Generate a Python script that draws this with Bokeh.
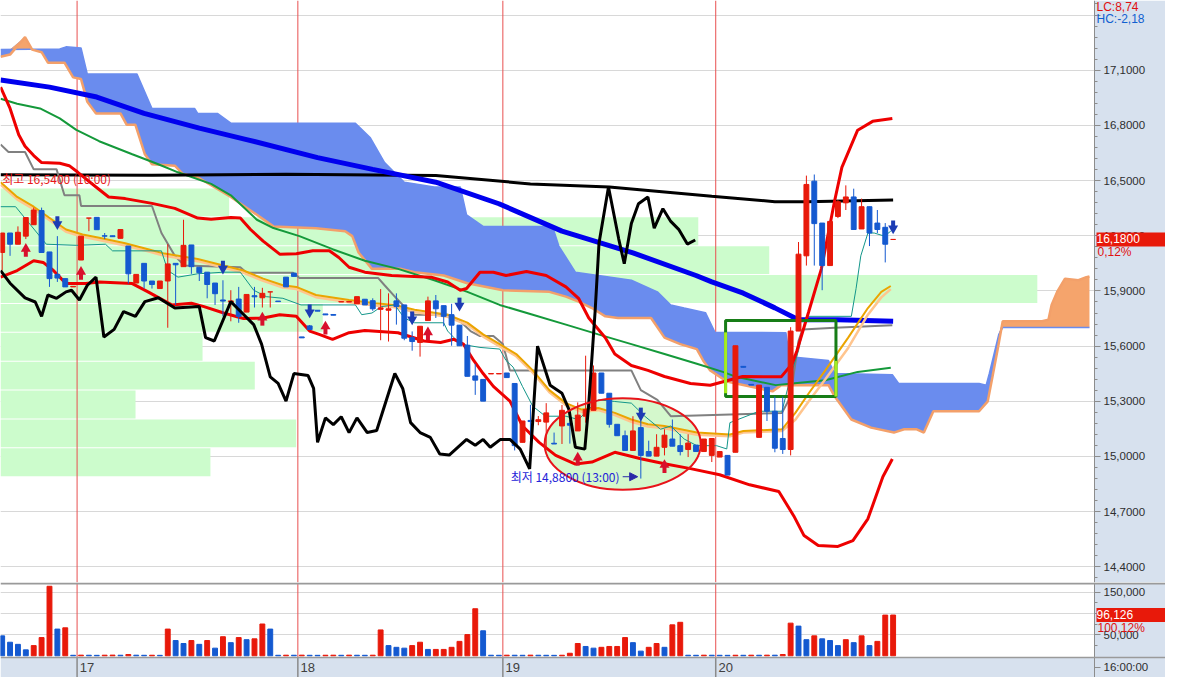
import numpy as np
from bokeh.plotting import figure
from bokeh.models import Range1d, FixedTicker, Span, Label, Arrow, NormalHead
from bokeh.layouts import column
from bokeh.embed import file_html
from bokeh.resources import INLINE
from bokeh.core.properties import value

# ---------------- candles (10-min bars, index 0..113) ----------------
opens = [16.109,16.215,16.154,16.198,16.260,16.337,16.112,15.990,15.967,15.922,
         16.068,16.296,16.300,16.200,16.200,16.186,16.144,15.943,16.050,15.954,
         15.913,15.954,16.050,16.032,16.150,16.029,16.002,15.943,15.851,15.840,
         15.856,15.785,15.874,15.863,15.895,15.845,15.975,15.997,15.650,15.710,
         15.795,15.775,15.772,15.840,15.840,15.830,15.855,15.847,15.800,15.795,
         15.846,15.824,15.646,15.620,15.739,15.846,15.820,15.771,15.714,15.605,
         15.438,15.419,15.449,15.449,15.454,15.397,15.077,15.196,15.190,15.187,
         15.072,15.166,15.180,15.139,15.219,15.251,15.454,15.344,15.175,15.113,
         15.033,15.157,15.027,15.002,15.050,15.095,15.059,15.038,15.062,15.027,
         15.006,14.997,15.006,15.023,15.490,15.392,15.104,15.376,15.246,15.098,
         15.038,15.682,16.091,16.497,16.269,16.038,16.305,16.379,16.411,16.237,
         16.358,16.269,16.246,16.180]
highs = [16.215,16.215,16.251,16.299,16.353,16.353,16.112,16.198,15.967,15.925,
         16.198,16.296,16.300,16.215,16.200,16.234,16.144,15.990,16.050,15.954,
         15.954,16.154,16.050,16.287,16.150,16.029,16.002,15.943,15.958,15.904,
         15.922,15.881,15.922,15.917,15.895,15.845,15.975,15.997,15.650,15.715,
         15.795,15.775,15.772,15.842,15.842,15.869,15.855,15.860,15.910,15.887,
         15.887,15.824,15.680,15.708,15.869,15.878,15.820,15.830,15.714,15.655,
         15.504,15.419,15.451,15.451,15.454,15.397,15.193,15.281,15.220,15.290,
         15.130,15.280,15.200,15.294,15.548,15.495,15.454,15.344,15.175,15.141,
         15.219,15.219,15.086,15.121,15.148,15.201,15.121,15.121,15.062,15.095,
         15.098,15.027,15.006,15.602,15.490,15.392,15.388,15.376,15.326,15.326,
         15.703,16.166,16.527,16.533,16.269,16.278,16.394,16.474,16.456,16.402,
         16.358,16.340,16.269,16.180]
lows = [16.011,16.091,16.154,16.182,16.260,16.109,15.922,15.949,15.922,15.922,
        16.068,16.225,16.233,16.182,16.195,16.186,15.940,15.943,15.913,15.913,
        15.913,15.700,15.824,16.032,15.993,15.954,15.860,15.824,15.762,15.735,
        15.727,15.785,15.810,15.810,15.810,15.842,15.922,15.979,15.645,15.690,
        15.790,15.770,15.768,15.840,15.840,15.830,15.824,15.792,15.632,15.625,
        15.717,15.632,15.575,15.543,15.739,15.753,15.708,15.602,15.602,15.436,
        15.335,15.301,15.449,15.449,15.429,15.033,15.077,15.095,15.170,15.041,
        15.068,15.068,15.070,15.139,15.184,15.251,15.344,15.157,15.113,15.033,
        15.033,14.880,15.002,15.002,15.006,15.056,15.006,14.997,15.027,15.027,
        14.970,14.997,14.899,15.023,15.485,15.388,15.104,15.193,15.023,15.014,
        15.006,15.682,16.038,16.038,15.904,16.038,16.296,16.340,16.234,16.237,
        16.144,16.215,16.055,16.180]
closes = [16.215,16.154,16.219,16.299,16.340,16.109,15.967,15.970,15.922,15.925,
          16.198,16.296,16.233,16.198,16.195,16.234,15.993,15.990,15.954,15.935,
          15.954,16.047,16.042,16.148,16.032,15.999,15.935,15.885,15.845,15.846,
          15.762,15.881,15.868,15.887,15.895,15.842,15.922,15.979,15.645,15.690,
          15.790,15.770,15.768,15.842,15.842,15.869,15.824,15.803,15.808,15.803,
          15.815,15.643,15.625,15.708,15.846,15.803,15.762,15.714,15.602,15.436,
          15.415,15.301,15.451,15.451,15.429,15.059,15.193,15.190,15.200,15.237,
          15.068,15.251,15.170,15.225,15.255,15.454,15.344,15.175,15.113,15.033,
          15.139,15.006,15.002,15.050,15.116,15.056,15.027,15.073,15.027,15.095,
          15.098,15.027,14.899,15.602,15.485,15.388,15.388,15.246,15.045,15.038,
          15.682,16.100,16.479,16.266,16.038,16.278,16.385,16.411,16.234,16.358,
          16.215,16.234,16.154,16.180]
volumes = [47000,32000,27000,14000,24000,43000,164000,63000,66000,
           1200,1500,1300,1100,1400,1600,1300,3000,1400,1200,1300,1100,
           63000,36000,29000,36000,27000,36000,18000,45000,31000,43000,38000,40000,75000,63000,
           1200,1400,1300,1500,1200,1100,1300,1400,1200,1500,1300,1200,1400,
           61000,24000,20000,18000,24000,32000,15000,15000,15000,20000,34000,50000,111000,59000,
           1300,1200,1400,1300,1200,1500,1300,1200,1100,1300,
           6000,29000,22000,18000,20000,22000,22000,43000,31000,11000,20000,29000,20000,73000,79000,
           1300,1200,1400,1300,1200,1100,1300,1200,1400,1300,1500,1400,
           3000,
           77000,70000,38000,47000,40000,36000,24000,38000,31000,47000,24000,34000,96000,96126]

day_breaks = [9.5, 37.5, 63.5, 90.5]
day_labels = ["17", "18", "19", "20"]
price_ticks = [14.4, 14.7, 15.0, 15.3, 15.6, 15.9, 16.2, 16.5, 16.8, 17.1, 17.4]
vol_ticks = [50000, 100000, 150000]

# ---------------- indicator lines (bar index, price) ----------------
bb_up_i = [-0.2,1.0,2.1,2.9,4.0,5.0,7.3,8.5,9.6,11.9,13.5,15.6,19.0,21.9,24.8,26.5,29.0,30.2,31.5,33.1,
           35.2,37.3,39.4,41.5,42.7,44.0,46.0,49.4,54.4,56.5,58.1,58.9,60.6,62.3,63.9,66.5,69.0,71.5,73.1,74.4,
           76.5,77.7,79.8,81.9,84.0,87.3,89.8,93.9,98.8,100.2,100.8,102.3,103.9,105.6,106.5,108.5,110.4,112.9]
bb_up_p = [17.008,16.892,16.749,16.687,16.636,16.598,16.594,16.581,16.545,16.465,16.411,16.402,16.376,16.349,16.296,16.290,16.299,16.296,16.234,16.171,
           16.100,16.102,16.118,16.118,16.082,16.029,16.002,15.984,15.975,15.949,15.904,15.913,16.002,16.002,15.984,16.006,15.984,15.922,15.860,15.753,
           15.646,15.557,15.495,15.468,15.435,15.397,15.387,15.435,15.433,15.504,15.575,15.788,16.020,16.394,16.572,16.774,16.822,16.838]
bb_lo_i = [-0.2,1.9,4.0,5.2,6.5,8.1,10.6,12.3,16.5,18.5,21.5,24.0,25.6,28.1,30.6,33.1,35.2,37.3,39.0,40.2,
           41.9,44.0,46.0,50.2,53.5,55.6,57.3,58.5,59.8,61.0,62.3,64.4,66.0,68.1,70.2,72.7,74.8,77.7,81.0,84.0,
           87.3,91.0,94.8,98.5,100.4,101.7,103.5,106.0,107.9,109.8,111.7,112.9]
bb_lo_p = [15.975,16.011,16.064,16.055,16.011,15.940,15.940,15.949,15.940,15.895,15.824,15.833,15.815,15.780,15.750,15.753,15.771,15.762,15.682,15.664,
           15.637,15.673,15.685,15.673,15.628,15.620,15.637,15.611,15.522,15.451,15.381,15.301,15.166,15.077,15.006,14.959,14.970,15.023,14.988,14.961,
           14.934,14.901,14.846,14.810,14.677,14.570,14.516,14.511,14.543,14.661,14.890,14.986]
kijun_i = [-0.2,0.8,2.9,4.0,6.9,7.9,9.8,10.0,19.0,20.2,21.9,23.1,30.2,31.0,36.9,37.7,47.7,48.5,50.0,51.0,
           52.3,56.5,58.1,59.4,60.6,62.3,63.5,64.4,79.8,81.0,83.1,84.8,98.9,100.0,101.0,101.5,105.6,112.9]
kijun_p = [16.696,16.655,16.655,16.561,16.561,16.420,16.420,16.362,16.362,16.215,16.091,16.038,16.029,15.999,15.999,15.970,15.970,15.931,15.860,15.815,
           15.771,15.771,15.735,15.682,15.655,15.655,15.611,15.468,15.468,15.361,15.308,15.219,15.237,15.326,15.628,15.691,15.700,15.714]
tenkan_i = [-0.2,1.7,5.6,9.4,13.1,14.0,20.2,21.0,22.3,24.8,28.1,30.2,31.9,33.5,35.6,37.9,44.8,45.6,46.9,48.1,
            49.8,51.0,52.3,56.0,56.5,58.1,60.6,63.1,63.9,64.8,66.0,67.3,68.9,71.5,73.1,75.6,77.7,79.8,81.5,83.5,
            84.8,86.5,88.1,90.6,91.9,92.3,96.0,98.9,100.2,101.0,101.9,102.3,107.7,108.3,108.9,109.8,110.6,111.9,112.7]
tenkan_p = [16.358,16.358,16.154,16.148,16.154,16.118,16.118,16.011,15.975,15.993,16.002,16.002,15.904,15.869,15.860,15.824,15.824,15.771,15.780,15.815,
            15.824,15.753,15.727,15.727,15.682,15.611,15.593,15.584,15.522,15.486,15.380,15.273,15.219,15.219,15.201,15.308,15.299,15.290,15.219,15.148,
            15.166,15.095,15.059,15.059,15.041,15.184,15.246,15.246,15.468,15.575,15.753,15.762,15.762,15.913,16.091,16.215,16.215,16.198,16.225]
ma_or_i = [-0.2,1.9,4.0,8.1,10.2,12.3,15.6,18.5,20.6,24.8,27.3,30.6,33.1,35.6,37.3,39.8,44.0,47.3,49.8,52.3,
           56.5,59.0,61.0,63.1,65.2,67.3,69.4,71.5,73.5,75.6,77.7,79.8,81.9,84.0,88.1,92.3,94.0,98.9,100.6,102.3,
           104.4,107.3,109.8,111.5,112.7]
ma_or_p = [16.491,16.411,16.358,16.234,16.207,16.189,16.159,16.127,16.103,16.074,16.047,16.011,15.967,15.931,15.922,15.878,15.851,15.833,15.824,15.798,
           15.771,15.728,15.664,15.611,15.557,15.468,15.361,15.290,15.255,15.264,15.237,15.201,15.175,15.166,15.130,15.120,15.139,15.148,15.237,15.344,
           15.468,15.646,15.807,15.895,15.927]
ma_pe_p = [16.478,16.398,16.345,16.222,16.195,16.177,16.147,16.115,16.091,16.062,16.035,15.999,15.955,15.919,15.910,15.866,15.839,15.821,15.812,15.786,
           15.759,15.716,15.652,15.599,15.545,15.456,15.349,15.278,15.243,15.252,15.225,15.189,15.163,15.154,15.118,15.110,15.130,15.139,15.200,15.300,
           15.420,15.590,15.771,15.865,15.910]
ma_gr_i = [-0.2,1.9,4.8,7.3,9.4,12.3,16.5,19.8,22.3,26.5,29.0,32.3,34.4,37.7,41.9,46.0,50.2,54.8,59.0,63.1,
           67.3,71.5,75.6,79.8,84.0,88.1,91.4,93.1,98.1,100.2,104.4,108.5,112.7]
ma_gr_p = [16.945,16.918,16.892,16.838,16.776,16.714,16.643,16.589,16.545,16.482,16.420,16.287,16.242,16.198,16.127,16.064,16.020,15.958,15.895,15.824,
           15.771,15.717,15.664,15.611,15.557,15.504,15.460,15.433,15.388,15.397,15.415,15.460,15.483]
ma_bl_i = [-0.2,6,12,18,25,31,40,47,55,63,71,80,88,90,94,98,101,106,113]
ma_bl_p = [17.047,17.008,16.954,16.865,16.785,16.723,16.625,16.561,16.491,16.374,16.225,16.107,15.984,15.949,15.888,15.808,15.744,15.744,15.735]
ma_lg_i = [-0.2,19,36,55,67,77,90,98,102,113]
ma_lg_p = [16.532,16.529,16.534,16.527,16.482,16.465,16.415,16.385,16.385,16.394]
cmp_i = [-0.2,1.0,2.9,4.2,5.0,5.8,6.9,8.1,8.8,9.8,10.8,11.9,12.9,14.2,15.4,16.9,18.1,19.8,21.9,25.0,
         25.8,26.9,29.0,29.8,31.9,32.9,34.0,35.0,36.0,37.0,38.8,39.5,40.0,41.0,42.0,43.0,44.0,45.0,46.3,47.5,
         48.8,49.8,50.8,51.8,53.0,54.3,55.5,56.7,58.9,60.0,61.0,61.9,63.2,64.4,65.7,66.9,67.9,69.5,71.0,71.9,
         72.7,73.9,74.4,75.2,75.7,76.9,78.2,78.9,79.8,80.7,81.9,82.7,83.8,84.8,85.8,86.9,87.9]
cmp_p = [16.011,15.942,15.862,15.840,15.762,15.878,15.860,15.895,15.904,15.851,15.931,15.975,15.650,15.691,15.788,15.762,15.842,15.863,15.807,15.815,
         15.646,15.628,15.842,15.807,15.717,15.611,15.433,15.397,15.301,15.451,15.440,15.370,15.077,15.210,15.173,15.216,15.130,15.210,15.130,15.141,
         15.317,15.451,15.370,15.184,15.130,15.104,15.013,15.008,15.093,15.061,15.093,15.050,15.093,15.093,15.040,14.933,15.600,15.387,15.344,15.253,
         15.050,15.040,15.290,15.787,16.161,16.465,16.182,16.048,16.267,16.374,16.411,16.241,16.347,16.278,16.235,16.155,16.177]
span_a_i = [-0.2,1.0,2.9,3.8,5.0,5.8,7.9,9.0,10.0,10.8,11.9,15.0,15.8,16.9,18.1,19.0,21.9,22.9,24.8,29.0,
            32.3,34.4,39.8,43.5,44.4,45.2,46.9,50.6,52.3,56.0,59.0,63.5,69.4,71.5,73.1,74.8,76.5,78.1,82.3,84.0,
            86.0,88.1,88.9,89.8,91.9,97.7,98.8,104.8,105.6,107.7,110.2,113.1,114.4,116.0,116.9,118.1,123.9,125.0,125.6,126.3,
            126.9,131.9,132.7,133.1,133.8,134.8,136.5,137.5,137.9]
span_a_p = [17.173,17.185,17.280,17.212,17.198,17.141,17.141,17.061,17.052,16.928,16.865,16.865,16.803,16.803,16.643,16.589,16.581,16.536,16.518,16.411,
            16.314,16.251,16.241,16.225,16.198,16.109,16.020,16.020,16.002,15.984,15.942,15.904,15.895,15.869,15.842,15.807,15.762,15.753,15.753,15.646,
            15.611,15.584,15.522,15.468,15.408,15.354,15.388,15.388,15.326,15.201,15.157,15.130,15.148,15.148,15.130,15.246,15.246,15.300,15.433,15.593,
            15.735,15.735,15.744,15.824,15.895,15.967,15.958,15.975,15.979]
span_b_i = [-0.2,7.3,8.1,10.0,10.8,17.1,19.0,24.4,24.8,27.3,29.0,44.8,46.7,48.5,51.0,54.8,58.1,58.9,61.0,69.8,
            70.6,72.7,75.6,79.8,83.1,84.8,86.5,89.2,90.4,99.4,99.8,100.6,104.8,105.6,112.9,113.7,123.9,124.8,125.2,125.8,
            126.4,126.9,137.9]
span_b_p = [17.212,17.216,17.227,17.221,17.079,17.079,16.892,16.892,16.865,16.865,16.812,16.812,16.732,16.598,16.491,16.465,16.465,16.314,16.251,16.251,
            16.144,16.002,15.984,15.958,15.895,15.824,15.807,15.782,15.675,15.673,15.557,15.540,15.522,15.451,15.445,15.397,15.397,15.388,15.451,15.557,
            15.664,15.701,15.701]

# price-by-volume profile (bottom bin first)
vp_base = 14.89
vp_step = 0.157
vp_vol = [213, 300, 137, 258, 205, 327, 1052, 780, 708, 232]

# signal arrows
sig_up_i = [3, 10, 33, 41, 54, 73, 84]
sig_up_p = [16.118, 15.993, 15.744, 15.696, 15.664, 14.983, 14.943]
sig_dn_i = [7, 28, 39, 52, 58, 81, 113]
sig_dn_p = [16.274, 16.032, 15.794, 15.756, 15.831, 15.233, 16.251]

# ---------------- layout constants ----------------
W, AXW, H1, H2 = 1165, 71, 582, 95
X0, X1 = -0.2125, 138.54
upx = (X1 - X0) / (W - AXW)
XE = X0 + W * upx
PMIN, PMAX = 14.315, 17.479
VMIN, VMAX = -51200, 172900
ppx = (PMAX - PMIN) / H1
vpx = (VMAX - VMIN) / H2
RED, BLUE = "#e8190a", "#1459d0"
AXBG = "#d7e1ee"
FONT = "Liberation Sans"
KFONT = "Noto Sans CJK KR"

def side_label(fig, x, y, text, color, bg=None):
    kw = dict(x=x, y=y, text=text, text_color=color, text_font=FONT, text_font_size="12px",
              text_baseline="middle", text_align="left")
    if bg is not None:
        kw["background_fill_color"] = bg
    fig.add_layout(Label(**kw))

def make_fig(height, yr):
    f = figure(width=W, height=height, x_range=xr, y_range=yr, output_backend="svg",
               toolbar_location=None, y_axis_location="right", x_axis_location=None,
               min_border_left=0, min_border_top=0, min_border_bottom=0, min_border_right=0,
               background_fill_color="white", border_fill_color=AXBG, outline_line_color=None)
    f.xgrid.grid_line_color = None
    f.ygrid.grid_line_color = "#d8d8d8"
    # light-blue price-scale strip on the right
    f.quad(left=[X1], right=[XE], bottom=[yr.start], top=[yr.end], fill_color=AXBG, line_color=None)
    ax = f.yaxis[0]
    ax.fixed_location = X1
    ax.axis_line_color = "#8c8c8c"
    ax.major_tick_line_color = "#8c8c8c"
    ax.minor_tick_line_color = "#8c8c8c"
    ax.major_tick_in = 0
    ax.major_tick_out = 6
    ax.minor_tick_in = 0
    ax.minor_tick_out = 3
    ax.major_label_standoff = 3
    ax.major_label_text_font = FONT
    ax.major_label_text_font_size = "11.5px"
    ax.major_label_text_color = "#2e2e2e"
    return f

xr = Range1d(X0, XE)
p1 = make_fig(H1, Range1d(PMIN, PMAX))
minor_p = [round(14.34 + 0.06 * k, 2) for k in range(53)]
p1.yaxis[0].ticker = FixedTicker(ticks=price_ticks, minor_ticks=minor_p)
ov = {t: f"{t:.4f}".replace(".", ",") for t in price_ticks}
ov[17.4] = ""
p1.yaxis[0].major_label_overrides = ov

# volume profile
vp_y = [vp_base + vp_step * (k + 0.5) for k in range(len(vp_vol))]
vp_right = [X0 + v * 0.125 for v in vp_vol]
p1.hbar(y=vp_y, left=X0, right=vp_right, height=vp_step * 0.965, fill_color="#ccfccc", line_color=None)

# ellipse fill
ELL = dict(x=78.7, y=15.068, w=19.8, h=0.498)
p1.ellipse(x=[ELL["x"]], y=[ELL["y"]], width=[ELL["w"]], height=[ELL["h"]], fill_color="#d4f8cc", line_color=None)

# day separators
p1.segment(x0=day_breaks, y0=[PMIN] * 4, x1=day_breaks, y1=[PMAX] * 4, line_color="#e85050", line_width=1)

# cloud
grid = np.union1d(span_a_i, span_b_i)
a = np.interp(grid, span_a_i, span_a_p)
b = np.interp(grid, span_b_i, span_b_p)
top = np.maximum(a, b)
p1.varea(x=grid, y1=a, y2=top, fill_color="#6a8cee")
p1.varea(x=grid, y1=b, y2=top, fill_color="#f5a46c")
p1.line(span_b_i, span_b_p, line_color="#6a8cee", line_width=1.5)
p1.line(span_a_i, span_a_p, line_color="#f3a06a", line_width=2.5)

# moving averages & bands
p1.line(ma_gr_i, ma_gr_p, line_color="#14993a", line_width=2)
p1.line(ma_lg_i, ma_lg_p, line_color="#000000", line_width=3)
p1.line(ma_bl_i, ma_bl_p, line_color="#0000ee", line_width=5)
p1.line(kijun_i, kijun_p, line_color="#808080", line_width=2)
p1.line(ma_or_i, ma_pe_p, line_color="#ffc58e", line_width=2.5)
p1.line(ma_or_i, ma_or_p, line_color="#eba400", line_width=2)
p1.line(tenkan_i, tenkan_p, line_color="#13968a", line_width=1)
p1.line(bb_up_i, bb_up_p, line_color="#ee0000", line_width=3)
p1.line(bb_lo_i, bb_lo_p, line_color="#ee0000", line_width=3)

# green box annotation
BOX = dict(l=91.75, r=105.75, b=15.326, t=15.739)
p1.quad(left=[BOX["l"]], right=[BOX["r"]], bottom=[BOX["b"]], top=[BOX["t"]],
        fill_alpha=0, line_color="#177d17", line_width=3)
p1.segment(x0=[BOX["l"], BOX["r"]], y0=[15.344, BOX["b"]], x1=[BOX["l"], BOX["r"]], y1=[15.675, 15.52],
           line_color="#a6ee1e", line_width=3)

# candles
idx = np.arange(len(opens))
o, h, l, c = map(np.array, (opens, highs, lows, closes))
ccol = np.where(c >= o, RED, BLUE)
p1.segment(x0=idx, y0=h, x1=idx, y1=l, line_color=ccol, line_width=1)
p1.vbar(x=idx, top=np.maximum(o, c), bottom=np.minimum(o, c), width=0.62, fill_color=ccol, line_color=ccol, line_width=1)

# comparison line
p1.line(cmp_i, cmp_p, line_color="#000000", line_width=3)

# ellipse border
p1.ellipse(x=[ELL["x"]], y=[ELL["y"]], width=[ELL["w"]], height=[ELL["h"]], fill_alpha=0, line_color="#e8141a", line_width=2)

# signal arrows
up_p = np.array(sig_up_p); dn_p = np.array(sig_dn_p)
p1.rect(x=sig_up_i, y=up_p - 3 * ppx, width=4, width_units="screen", height=6 * ppx, fill_color="#d8102c", line_color=None)
p1.scatter(x=sig_up_i, y=up_p + 2 * ppx, marker="triangle", size=10, fill_color="#d8102c", line_color=None)
p1.rect(x=sig_dn_i, y=dn_p + 3 * ppx, width=4, width_units="screen", height=6 * ppx, fill_color="#1c3cb4", line_color=None)
p1.scatter(x=sig_dn_i, y=dn_p - 2 * ppx, marker="inverted_triangle", size=10, fill_color="#1c3cb4", line_color=None)

# texts
p1.text(x=[0.0], y=[16.513], text=["최고 16,5400 (10:00)"], text_font=value(KFONT), text_font_size="12px",
        text_color="#e81818", text_baseline="middle")
p1.text(x=[78.3], y=[14.89], text=["최저 14,8800 (13:00)"], text_font=value(KFONT), text_font_size="12px",
        text_color="#2424d8", text_baseline="middle", text_align="right")
p1.add_layout(Arrow(end=NormalHead(size=8, fill_color="#2a2aa8", line_color="#2a2aa8"),
                    x_start=78.7, y_start=14.89, x_end=80.6, y_end=14.89, line_color="#2a2aa8", line_width=1))

# right-scale labels (price)
side_label(p1, X1 + 2 * upx, PMAX - 6 * ppx, "LC:8,74", "#e01010")
side_label(p1, X1 + 2 * upx, PMAX - 18 * ppx, "HC:-2,18", "#1060d0")
side_label(p1, X1 + 2 * upx, closes[-1], " 16,1800        ", "white", RED)
side_label(p1, X1 + 3 * upx, closes[-1] - 13 * ppx, "0,12%", "#e01010")

# ---------------- volume panel ----------------
p2 = make_fig(H2, Range1d(VMIN, VMAX))
p2.yaxis[0].ticker = FixedTicker(ticks=vol_ticks + [-27600], minor_ticks=[25000, 75000, 125000])
p2.yaxis[0].major_label_overrides = {50000: "50,000", 100000: "100,000", 150000: "150,000", -27600: "16:00:00"}
p2.ygrid.ticker = FixedTicker(ticks=vol_ticks)

v = np.array(volumes)
prev = np.concatenate([[v[0] + 1], v[:-1]])
vcol = np.where(v >= prev, RED, BLUE)
p2.vbar(x=idx, top=v, bottom=0, width=0.62, fill_color=vcol, line_color=vcol, line_width=1)

p2.segment(x0=day_breaks, y0=[-4000] * 4, x1=day_breaks, y1=[VMAX] * 4, line_color="#e85050", line_width=1)
p2.quad(left=[X0], right=[X1], bottom=[VMIN], top=[-4000], fill_color=AXBG, line_color=None)
p2.add_layout(Span(location=-4000, dimension="width", line_color="#9a9a9a", line_width=1.5))
p2.add_layout(Span(location=VMAX - 1 * vpx, dimension="width", line_color="#9a9a9a", line_width=2))
p2.segment(x0=day_breaks, y0=[VMIN] * 4, x1=day_breaks, y1=[-4000] * 4, line_color="#8a8a8a", line_width=1.5)
p2.text(x=[d + 0.35 for d in day_breaks], y=[-27600] * 4, text=day_labels, text_font=value(FONT),
        text_font_size="13px", text_color="#404040", text_baseline="middle")

side_label(p2, X1 + 2 * upx, volumes[-1], " 96,126         ", "white", RED)
side_label(p2, X1 + 3 * upx, volumes[-1] - 13 * vpx, "100,12%", "#e01010")

layout = column(p1, p2)
open("out.html", "w").write(file_html(layout, INLINE))
